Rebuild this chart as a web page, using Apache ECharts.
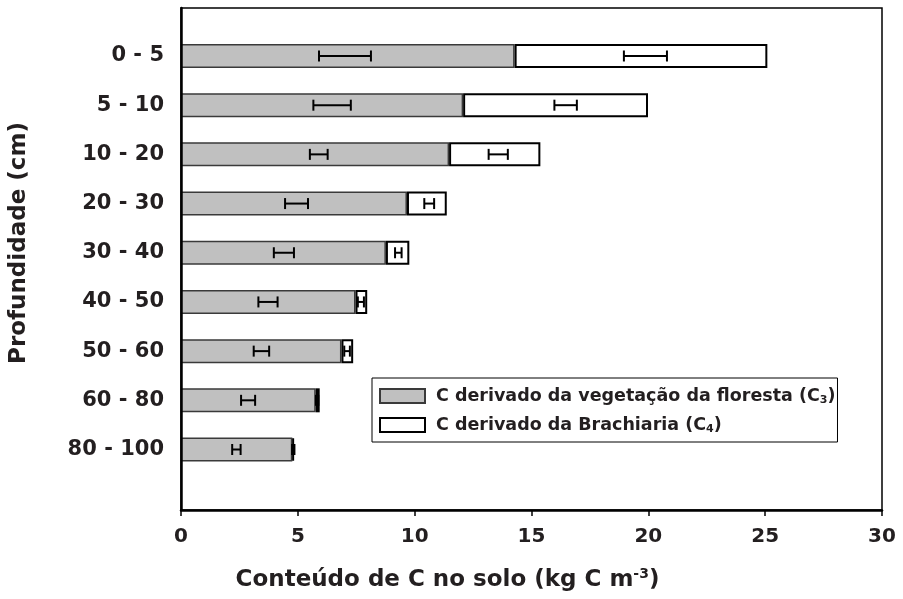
<!DOCTYPE html>
<html>
<head>
<meta charset="utf-8">
<script src="https://cdn.jsdelivr.net/npm/echarts@6/dist/echarts.min.js"></script>
<style>html,body{margin:0;padding:0;background:#fff}#c{width:903px;height:599px}</style>
</head>
<body>
<div id="c"></div>
<script>
// ---- data ----
const categories = ['0 - 5', '5 - 10', '10 - 20', '20 - 30', '30 - 40', '40 - 50', '50 - 60', '60 - 80', '80 - 100'];
const c3Values = [14.3, 12.1, 11.5, 9.7, 8.8, 7.5, 6.9, 5.8, 4.8];
const c4Values = [10.8, 7.9, 3.9, 1.7, 1.0, 0.5, 0.5, 0.17, 0.07];
const c3ErrCenter = [7.05, 6.5, 5.93, 4.98, 4.44, 3.76, 3.48, 2.91, 2.41];
const c3ErrHalf = [1.11, 0.80, 0.38, 0.49, 0.43, 0.41, 0.33, 0.30, 0.18];
const c4ErrCenter = [19.89, 16.48, 13.6, 10.65, 9.33, 7.73, 7.14, 5.86, 4.84];
const c4ErrHalf = [0.92, 0.48, 0.41, 0.21, 0.14, 0.13, 0.12, 0.05, 0.05];
const xTicks = [0, 5, 10, 15, 20, 25, 30];
const seriesNames = ['C derivado da vegetação da floresta', 'C derivado da Brachiaria'];
const seriesSubs = ['3', '4'];

const FONT = 'DejaVu Sans, Liberation Sans, Arial, sans-serif';
const TXT = '#231f20';

function errData(center, half) {
  return center.map((c, i) => [c - half[i], c + half[i], i]);
}
function renderErr(params, api) {
  const lo = api.coord([api.value(0), api.value(2)]);
  const hi = api.coord([api.value(1), api.value(2)]);
  const h = 5.5;
  const style = { stroke: '#000', lineWidth: 2, fill: null };
  return {
    type: 'group',
    children: [
      { type: 'line', shape: { x1: lo[0], y1: lo[1], x2: hi[0], y2: hi[1] }, style },
      { type: 'line', shape: { x1: lo[0], y1: lo[1] - h, x2: lo[0], y2: lo[1] + h }, style },
      { type: 'line', shape: { x1: hi[0], y1: hi[1] - h, x2: hi[0], y2: hi[1] + h }, style }
    ]
  };
}

const chart = echarts.init(document.getElementById('c'), null, { renderer: 'canvas' });
const option = {
  backgroundColor: '#fff',
  animation: false,
  textStyle: { fontFamily: FONT },
  grid: [
    { left: 180, top: 8, width: 702, height: 502, show: true, borderColor: '#000', borderWidth: 1.5, backgroundColor: 'transparent' },
    { left: 180, top: 31.4, width: 702, height: 442.7 }
  ],
  xAxis: [
    {
      gridIndex: 0, type: 'value', min: xTicks[0], max: xTicks[xTicks.length - 1], interval: 5, z: 20,
      axisLine: { show: true, lineStyle: { color: '#000', width: 2.5 } },
      axisTick: { show: true, inside: false, length: 6, lineStyle: { color: '#000', width: 1.5 } },
      splitLine: { show: false },
      axisLabel: { color: TXT, fontSize: 20, fontWeight: 'bold', fontFamily: FONT, margin: 17 },
      name: '{n|Conteúdo de C no solo (kg C m}{sup|-3}{n|)}',
      nameLocation: 'middle', nameGap: 57,
      nameTextStyle: {
        padding: [0, 168, 0, 0],
        rich: {
          n: { fontSize: 23, fontWeight: 'bold', color: TXT, fontFamily: FONT, lineHeight: 26 },
          sup: { fontSize: 14, fontWeight: 'bold', color: TXT, fontFamily: FONT, verticalAlign: 'top', lineHeight: 12 }
        }
      }
    },
    { gridIndex: 1, type: 'value', min: 0, max: 30, show: false }
  ],
  yAxis: [
    {
      gridIndex: 0, type: 'value', min: 0, max: 1, z: 20,
      axisLine: { show: true, lineStyle: { color: '#000', width: 2.5 } },
      axisTick: { show: false }, axisLabel: { show: false }, splitLine: { show: false },
      name: 'Profundidade (cm)', nameLocation: 'middle', nameGap: 150, nameRotate: 90,
      nameTextStyle: { fontSize: 23, fontWeight: 'bold', color: TXT, fontFamily: FONT, padding: [0, 0, 0, 32] }
    },
    {
      gridIndex: 1, type: 'category', data: categories, inverse: true,
      axisLine: { show: false }, axisTick: { show: false }, splitLine: { show: false },
      axisLabel: { color: TXT, fontSize: 21, fontWeight: 'bold', fontFamily: FONT, margin: 16 }
    }
  ],
  legend: {
    left: 372, top: 378, orient: 'vertical',
    data: seriesNames, icon: 'rect',
    backgroundColor: '#fff', borderColor: '#000', borderWidth: 1,
    padding: [9, 2, 7, 7], itemGap: 10, itemWidth: 45, itemHeight: 14,
    formatter: function (name) {
      const i = seriesNames.indexOf(name);
      return '{g|}{n|' + name + ' (C}{sub|' + seriesSubs[i] + '}{n|)}';
    },
    textStyle: {
      rich: {
        g: { width: 6 },
        n: { fontSize: 17.5, fontWeight: 'bold', color: TXT, fontFamily: FONT, lineHeight: 20 },
        sub: { fontSize: 11, fontWeight: 'bold', color: TXT, fontFamily: FONT, verticalAlign: 'bottom', lineHeight: 8 }
      }
    }
  },
  series: [
    {
      name: seriesNames[0], type: 'bar', stack: 'total', xAxisIndex: 1, yAxisIndex: 1,
      data: c3Values, barWidth: 24,
      itemStyle: { color: '#c0c0c0', borderColor: '#3a3a3a', borderWidth: 1.5 }
    },
    {
      name: seriesNames[1], type: 'bar', stack: 'total', xAxisIndex: 1, yAxisIndex: 1,
      data: c4Values, barWidth: 24,
      itemStyle: { color: '#ffffff', borderColor: '#000', borderWidth: 2 }
    },
    {
      type: 'custom', xAxisIndex: 1, yAxisIndex: 1, z: 10,
      data: errData(c3ErrCenter, c3ErrHalf), renderItem: renderErr,
      encode: { x: [0, 1], y: 2 }
    },
    {
      type: 'custom', xAxisIndex: 1, yAxisIndex: 1, z: 10,
      data: errData(c4ErrCenter, c4ErrHalf), renderItem: renderErr,
      encode: { x: [0, 1], y: 2 }
    }
  ]
};
chart.setOption(option);
</script>
</body>
</html>
